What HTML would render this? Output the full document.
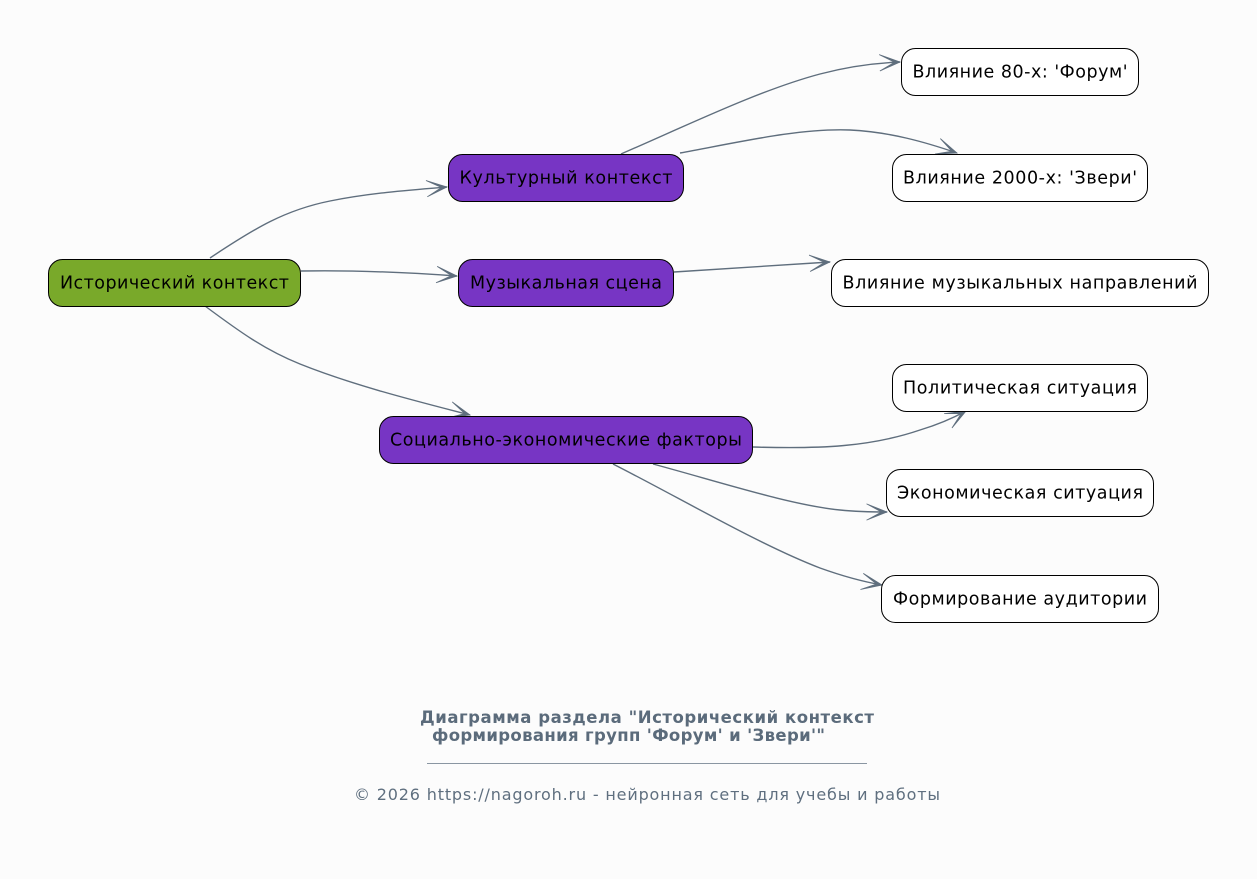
<!DOCTYPE html>
<html>
<head>
<meta charset="utf-8">
<style>
  html,body{margin:0;padding:0;background:#fcfcfc;}
  svg{display:block;}
  .n{font-family:"DejaVu Sans","Liberation Sans","Noto Sans CJK SC",sans-serif;font-size:17.5px;fill:#000;}
  .t{font-family:"DejaVu Sans","Liberation Sans","Noto Sans CJK SC",sans-serif;font-size:16.5px;font-weight:bold;fill:#5b6b7b;}
  .f{font-family:"DejaVu Sans","Liberation Sans","Noto Sans CJK SC",sans-serif;font-size:16px;fill:#5f6f7f;}
  .e{fill:none;stroke:#5f6e7d;stroke-width:1.4;}
</style>
</head>
<body>
<svg width="1257" height="879" viewBox="0 0 1257 879" xmlns="http://www.w3.org/2000/svg">
  <defs>
    <marker id="v" markerUnits="userSpaceOnUse" markerWidth="30" markerHeight="30" refX="0" refY="0" viewBox="-20 -10 22 20" orient="auto" overflow="visible">
      <path d="M0,0 L-15,-6 L-4,0 L-15,6 Z" fill="#5f6e7d" stroke="#5f6e7d" stroke-width="0.6" stroke-linejoin="miter"/>
    </marker>
  </defs>
  <rect x="0" y="0" width="1257" height="879" fill="#fcfcfc"/>

  <!-- edges -->
  <path class="e" marker-end="url(#v)" d="M210,258 C255,228 285,210 330,201 C370,193 410,190 447,187"/>
  <path class="e" marker-end="url(#v)" d="M301,271 C350,270 400,272 457,276"/>
  <path class="e" marker-end="url(#v)" d="M205,306 C240,332 265,350 300,364 C355,386 420,402 470,415"/>
  <path class="e" marker-end="url(#v)" d="M621,154 C690,124 760,90 820,74 C850,66 875,63 900,62"/>
  <path class="e" marker-end="url(#v)" d="M680,153 C740,142 800,128 850,130 C890,132 925,142 957,153"/>
  <path class="e" marker-end="url(#v)" d="M674,272 L830,262"/>
  <path class="e" marker-end="url(#v)" d="M753,447 C820,449 870,447 920,430 C940,424 955,417 966,411"/>
  <path class="e" marker-end="url(#v)" d="M653,464 C720,482 790,505 840,510 C860,512 875,512 887,512"/>
  <path class="e" marker-end="url(#v)" d="M613,464 C680,498 760,545 820,568 C845,577 865,582 882,585"/>

  <!-- nodes -->
  <rect x="48.5" y="259.5" width="252" height="47" rx="14" ry="14" fill="#79a92a" stroke="#000" stroke-width="1"/>
  <text class="n" x="174.5" y="288.5" text-anchor="middle" textLength="229" lengthAdjust="spacing">Исторический контекст</text>

  <rect x="448.5" y="154.5" width="235" height="47" rx="14" ry="14" fill="#7735c4" stroke="#000" stroke-width="1"/>
  <text class="n" x="566" y="183.5" text-anchor="middle" textLength="213" lengthAdjust="spacing">Культурный контекст</text>

  <rect x="458.5" y="259.5" width="215" height="47" rx="14" ry="14" fill="#7735c4" stroke="#000" stroke-width="1"/>
  <text class="n" x="566" y="288.5" text-anchor="middle" textLength="192" lengthAdjust="spacing">Музыкальная сцена</text>

  <rect x="379.5" y="416.5" width="373" height="47" rx="14" ry="14" fill="#7735c4" stroke="#000" stroke-width="1"/>
  <text class="n" x="566" y="445.5" text-anchor="middle" textLength="352" lengthAdjust="spacing">Социально-экономические факторы</text>

  <rect x="901.5" y="48.5" width="237" height="47" rx="14" ry="14" fill="#fff" stroke="#000" stroke-width="1"/>
  <text class="n" x="1020" y="77.5" text-anchor="middle" textLength="215" lengthAdjust="spacing">Влияние 80-х: 'Форум'</text>

  <rect x="892.5" y="154.5" width="255" height="47" rx="14" ry="14" fill="#fff" stroke="#000" stroke-width="1"/>
  <text class="n" x="1020" y="183.5" text-anchor="middle" textLength="234" lengthAdjust="spacing">Влияние 2000-х: 'Звери'</text>

  <rect x="831.5" y="259.5" width="377" height="47" rx="14" ry="14" fill="#fff" stroke="#000" stroke-width="1"/>
  <text class="n" x="1020" y="288.5" text-anchor="middle" textLength="355" lengthAdjust="spacing">Влияние музыкальных направлений</text>

  <rect x="892.5" y="364.5" width="255" height="47" rx="14" ry="14" fill="#fff" stroke="#000" stroke-width="1"/>
  <text class="n" x="1020" y="393.5" text-anchor="middle" textLength="234" lengthAdjust="spacing">Политическая ситуация</text>

  <rect x="886.5" y="469.5" width="267" height="47" rx="14" ry="14" fill="#fff" stroke="#000" stroke-width="1"/>
  <text class="n" x="1020" y="498.5" text-anchor="middle" textLength="246" lengthAdjust="spacing">Экономическая ситуация</text>

  <rect x="881.5" y="575.5" width="277" height="47" rx="14" ry="14" fill="#fff" stroke="#000" stroke-width="1"/>
  <text class="n" x="1020" y="604.5" text-anchor="middle" textLength="254" lengthAdjust="spacing">Формирование аудитории</text>

  <!-- title -->
  <text class="t" x="420" y="723" textLength="454" lengthAdjust="spacing">Диаграмма раздела "Исторический контекст</text>
  <text class="t" x="432" y="741" textLength="393" lengthAdjust="spacing">формирования групп 'Форум' и 'Звери'"</text>
  <line x1="427" y1="763.5" x2="867" y2="763.5" stroke="#8a96a2" stroke-width="1"/>
  <text class="f" x="354" y="800" textLength="586" lengthAdjust="spacing">© 2026 https://nagoroh.ru - нейронная сеть для учебы и работы</text>
</svg>
</body>
</html>
